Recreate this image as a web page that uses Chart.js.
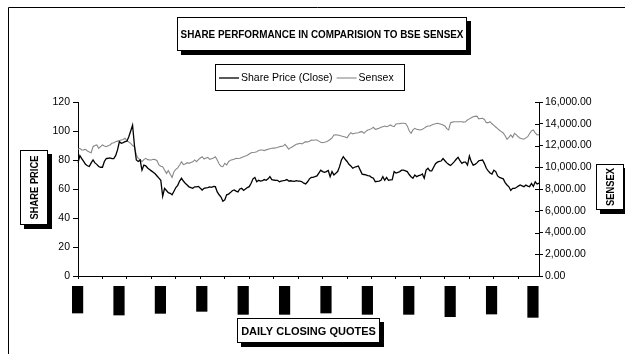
<!DOCTYPE html>
<html lang="en">
<head>
<meta charset="UTF-8">
<title>Share Performance in Comparision to BSE Sensex</title>
<script src="https://cdn.jsdelivr.net/npm/chart.js"></script>
<style>
  html, body { margin: 0; padding: 0; background: #fff; }
  canvas { display: block; }
</style>
</head>
<body>
<canvas id="shareChart" width="625" height="354"></canvas>
<script>
// daily closing share price (left axis)
const sharePrice = [
  78, 83, 81, 79, 77, 76, 75.5, 78, 80, 78, 77,
  75.5, 75, 75, 79, 81, 81.2, 81.5, 81, 81, 83, 87,
  92.6, 91.6, 92, 92.6, 93, 96, 100, 104, 90, 80, 79,
  80, 73, 76.5, 76, 74.5, 73.5, 72.5, 71.5, 70.5, 69, 67.5,
  66, 55, 60.5, 59, 57.5, 57, 56, 58.5, 61, 62.5, 65.5,
  67.4, 65.5, 64, 62.8, 61.5, 61, 60.5, 61.5, 61.5, 61.8, 60.5,
  59.3, 60.5, 60.8, 61, 61.5, 61.2, 61.8, 61.6, 58, 56, 54.5,
  51.5, 52.5, 56, 56.5, 57.5, 58.8, 59.3, 58.5, 58, 60, 60.5,
  59, 60, 61, 61.6, 64, 67, 68, 65, 66, 65.5, 65.7,
  66.5, 66, 67, 68.5, 66.5, 66.2, 66, 66, 65, 65.5, 65.7,
  66, 66.5, 65.5, 65.7, 65.5, 65.3, 65.8, 65.5, 65.5, 65, 64,
  63.5, 65, 67, 68, 68, 68.6, 69, 71, 73, 72, 71.5,
  72, 72.8, 68.5, 72, 69.7, 70.8, 72, 75.4, 80, 82.3, 80.5,
  79, 77, 75.9, 74.3, 75, 75.5, 75.9, 73, 70.3, 70, 69.7,
  69.3, 69, 68, 67.4, 65, 65.3, 65.5, 66, 68.5, 66, 68,
  66, 66.3, 66.5, 72, 71, 71.4, 72, 73, 73, 72.5, 72,
  70, 68.5, 67.4, 69.7, 68.5, 69.2, 69.5, 70.3, 67.4, 73, 74.3,
  72.5, 72.5, 75, 77.5, 78.5, 79, 79.3, 81, 79.5, 78, 77,
  76.2, 77.5, 78.9, 80.5, 81.8, 79.5, 77.7, 78.5, 78.5, 76.5, 82.8,
  78.9, 76.5, 77, 78, 79.5, 79.8, 80, 77.5, 74.3, 72.5, 71,
  70.3, 73, 72, 69, 68, 67.5, 67, 64.4, 62.8, 61.5, 59,
  60.5, 60.5, 61, 62, 62.8, 62.2, 61.6, 62.8, 62, 61.6, 63.8,
  61.8, 65, 63.4, 64
];

// BSE Sensex close (right axis)
const sensex = [
  11650, 11740, 11590, 11600, 11650, 11500, 11400, 11340, 11890, 12000, 12050,
  11740, 11900, 12050, 11950, 11890, 11970, 12050, 12200, 12260, 12350, 12400,
  12450, 12510, 12550, 12660, 12450, 12320, 12200, 12000, 11890, 11130, 10820,
  10700, 10510, 10700, 10820, 10700, 10680, 10670, 10730, 10700, 10600, 10210,
  10100, 10050, 9750, 9440, 9690, 9350, 9070, 9590, 9800, 9950, 10210,
  10510, 10250, 10300, 10420, 10360, 10430, 10500, 10670, 10510, 10700, 10850,
  10970, 10750, 10850, 10900, 10730, 10790, 10850, 10970, 10670, 10300, 10100,
  10050, 10360, 10210, 10510, 10650, 10690, 10730, 10820, 10800, 10820, 10900,
  10970, 11030, 11100, 11220, 11340, 11360, 11380, 11430, 11550, 11590, 11590,
  11530, 11600, 11650, 11700, 11740, 11760, 11780, 11820, 11890, 11920, 11950,
  12110, 11900, 11650, 11800, 11890, 12000, 12110, 12150, 12200, 12140, 12250,
  12350, 12320, 12400, 12510, 12480, 12500, 12510, 12400, 12300, 12260, 12300,
  12350, 12440, 12550, 12700, 12970, 12980, 12970, 12920, 12870, 12830, 12780,
  12710, 12970, 13180, 13070, 13120, 13150, 13180, 13250, 13270, 13120, 13300,
  13430, 13470, 13550, 13670, 13490, 13530, 13580, 13670, 13730, 13790, 13730,
  13800, 13890, 13800, 13730, 13980, 14000, 14010, 14040, 14040, 14020, 13800,
  13350, 13120, 13430, 13580, 13500, 13460, 13430, 13490, 13600, 13730, 13790,
  13800, 13890, 13950, 14000, 14040, 14000, 13950, 13880, 13790, 13550, 13430,
  14100, 14150, 14190, 14190, 14180, 14190, 14190, 14150, 14190, 14350, 14450,
  14550, 14650, 14680, 14700, 14450, 14480, 14500, 14400, 14100, 14100, 14190,
  14000, 13850, 13700, 13550, 13400, 13280, 13150, 12900, 12570, 12750, 12970,
  12750, 13120, 12970, 12800, 12660, 12620, 12580, 12700, 12810, 13100, 13350,
  13430, 13150, 12970, 13000
];

// one label every 22 trading days, a tick mark every 13
const tickLabels = ['3-Apr-06', '5-May-06', '6-Jun-06', '6-Jul-06', '4-Aug-06', '5-Sep-06',
                    '6-Oct-06', '8-Nov-06', '8-Dec-06', '10-Jan-07', '9-Feb-07', '13-Mar-07'];
const labelEvery = 22;
const tickEvery = 13;
const days = sharePrice.map((v, i) => i);

const FONT = 'Arial, "Liberation Sans", sans-serif';

function boxedText(ctx, text, x, y, w, h, font, sx, rotate, shadow) {
    if (shadow) {
        ctx.fillStyle = '#000';
        ctx.fillRect(x + 4, y + 4, w, h);
    }
    ctx.fillStyle = '#fff';
    ctx.fillRect(x, y, w, h);
    ctx.strokeStyle = '#000';
    ctx.lineWidth = 1;
    ctx.strokeRect(x + 0.5, y + 0.5, w - 1, h - 1);
    ctx.save();
    ctx.translate(x + w / 2, y + h / 2);
    if (rotate) ctx.rotate(-Math.PI / 2);
    ctx.scale(sx, 1);
    ctx.font = font;
    ctx.fillStyle = '#000';
    ctx.textAlign = 'center';
    ctx.textBaseline = 'middle';
    ctx.fillText(text, 0, 1);
    ctx.restore();
}

const decorations = {
    id: 'decorations',
    afterDraw(chart) {
        const ctx = chart.ctx;
        ctx.save();

        // outer frame (left and top edges only are inside the picture)
        ctx.strokeStyle = '#000';
        ctx.lineWidth = 1;
        ctx.beginPath();
        ctx.moveTo(8.5, 360);
        ctx.lineTo(8.5, 7.5);
        ctx.lineTo(630, 7.5);
        ctx.stroke();

        // right axis tick marks cross the axis line
        const r = chart.scales.y1;
        ctx.beginPath();
        r.ticks.forEach(t => {
            const py = Math.round(r.getPixelForValue(t.value)) + 0.5;
            ctx.moveTo(r.left - 4, py);
            ctx.lineTo(r.left, py);
        });
        ctx.stroke();

        boxedText(ctx, 'SHARE PERFORMANCE IN COMPARISION TO BSE SENSEX', 177, 17, 290, 34,
                  'bold 11px ' + FONT, 0.9, false, true);
        boxedText(ctx, 'SHARE PRICE', 20, 150, 28, 75, 'bold 11px ' + FONT, 0.85, true, true);
        boxedText(ctx, 'SENSEX', 596, 164, 28, 46, 'bold 11px ' + FONT, 0.85, true, true);
        boxedText(ctx, 'DAILY CLOSING QUOTES', 237, 318, 143, 25, 'bold 11px ' + FONT, 1, false, true);

        // legend
        const lx = 215, ly = 64, lw = 190, lh = 27;
        ctx.strokeStyle = '#000';
        ctx.strokeRect(lx + 0.5, ly + 0.5, lw - 1, lh - 1);
        ctx.font = '10.5px ' + FONT;
        ctx.textBaseline = 'middle';
        ctx.textAlign = 'left';
        let cx = lx + 4;
        const cy = ly + lh / 2 + 0.5;
        chart.data.datasets.forEach(ds => {
            ctx.strokeStyle = ds.borderColor;
            ctx.lineWidth = ds.borderWidth;
            ctx.beginPath();
            ctx.moveTo(cx, cy);
            ctx.lineTo(cx + 20, cy);
            ctx.stroke();
            cx += 22;
            ctx.fillStyle = '#000';
            ctx.fillText(ds.label, cx, cy + 0.5);
            cx += ctx.measureText(ds.label).width + 4;
        });

        ctx.restore();
    }
};

new Chart(document.getElementById('shareChart'), {
    type: 'line',
    data: {
        labels: days,
        datasets: [
            {
                label: 'Share Price (Close)',
                data: sharePrice,
                yAxisID: 'y',
                borderColor: '#000',
                borderWidth: 1.3,
                pointRadius: 0,
                tension: 0
            },
            {
                label: 'Sensex',
                data: sensex,
                yAxisID: 'y1',
                borderColor: '#888',
                borderWidth: 1.1,
                pointRadius: 0,
                tension: 0
            }
        ]
    },
    options: {
        responsive: false,
        animation: false,
        devicePixelRatio: 1,
        layout: { padding: { top: 102 } },
        plugins: {
            legend: { display: false },
            title: { display: false },
            tooltip: { enabled: false }
        },
        scales: {
            x: {
                afterFit: s => { s.height = 78; },
                grid: {
                    drawOnChartArea: false,
                    tickLength: 3,
                    color: c => c.index % tickEvery === 0 ? '#000' : 'rgba(0,0,0,0)'
                },
                border: { color: '#000' },
                ticks: {
                    autoSkip: false,
                    minRotation: 90,
                    maxRotation: 90,
                    padding: 9,
                    labelOffset: -4,
                    color: '#000',
                    font: { family: FONT, size: 6 },
                    showLabelBackdrop: c => c.index % labelEvery === 0,
                    backdropColor: '#000',
                    backdropPadding: 2,
                    callback: (v, i) => i % labelEvery === 0 ? tickLabels[i / labelEvery] : ''
                }
            },
            y: {
                position: 'left',
                min: 0,
                max: 120,
                afterFit: s => { s.width = 78; },
                grid: { drawOnChartArea: false, tickLength: 5, color: '#000' },
                border: { color: '#000' },
                ticks: { stepSize: 20, padding: 3, color: '#000', font: { family: FONT, size: 10.5 } }
            },
            y1: {
                position: 'right',
                min: 0,
                max: 16000,
                afterFit: s => { s.width = 86; },
                grid: { drawOnChartArea: false, tickLength: 4, color: '#000' },
                border: { color: '#000' },
                ticks: {
                    stepSize: 2000,
                    padding: 2,
                    color: '#000',
                    font: { family: FONT, size: 10.5 },
                    callback: v => v.toLocaleString('en-US', { minimumFractionDigits: 2, maximumFractionDigits: 2 })
                }
            }
        }
    },
    plugins: [decorations]
});
</script>
</body>
</html>
